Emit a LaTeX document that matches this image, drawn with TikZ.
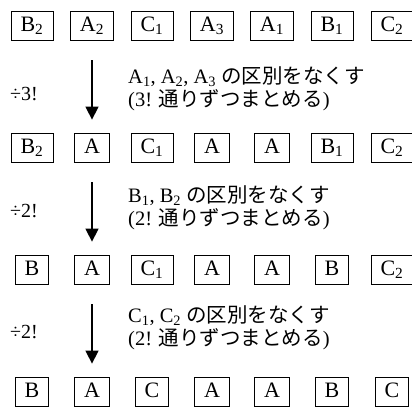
\documentclass[tikz,border=0pt]{standalone}
\usepackage{fontspec}
\setmainfont{Liberation Serif}
\newfontfamily\jpfont{Noto Sans CJK JP}
\usetikzlibrary{arrows.meta}
\newcommand\sbs[1]{\textsubscript{#1}}
\begin{document}
\begin{tikzpicture}[x=1pt,y=-1pt,
  cell/.style={draw,line width=0.8pt,minimum height=29pt,inner xsep=9.5pt,inner ysep=0pt,
    text height=15pt,text depth=4pt,font=\fontsize{22}{22}\selectfont},
  note/.style={anchor=west,inner sep=0pt,font=\fontsize{20.5}{20.5}\selectfont},
  divtxt/.style={anchor=west,inner sep=0pt,font=\fontsize{20}{20}\selectfont},
  down/.style={line width=1.5pt,-{Triangle[width=13pt,length=13pt]},shorten <=19.5pt,shorten >=13.5pt}]
\useasboundingbox (0,0) rectangle (412,407);
% row 1
\foreach \t [count=\i] in {B\sbs{2},A\sbs{2},C\sbs{1},A\sbs{3},A\sbs{1},B\sbs{1},C\sbs{2}}
  \node[cell] (r1c\i) at ({32+60*(\i-1)},26) {\t};
% row 2
\foreach \t [count=\i] in {B\sbs{2},A,C\sbs{1},A,A,B\sbs{1},C\sbs{2}}
  \node[cell] (r2c\i) at ({32+60*(\i-1)},148) {\t};
% row 3
\foreach \t [count=\i] in {B,A,C\sbs{1},A,A,B,C\sbs{2}}
  \node[cell] (r3c\i) at ({32+60*(\i-1)},270) {\t};
% row 4
\foreach \t [count=\i] in {B,A,C,A,A,B,C}
  \node[cell] (r4c\i) at ({32+60*(\i-1)},392) {\t};
% arrows
\draw[down] (r1c2.south) -- (r2c2.north);
\draw[down] (r2c2.south) -- (r3c2.north);
\draw[down] (r3c2.south) -- (r4c2.north);
% annotations
\node[divtxt] (d1) at (10,94) {÷3!};
\node[note] (n1a) at (128,77) {A\sbs{1}, A\sbs{2}, A\sbs{3} {\jpfont の区別をなくす}};
\node[note] (n1b) at (128,100.5) {(3! {\jpfont 通りずつまとめる})};
\node[divtxt] (d2) at (10,211) {÷2!};
\node[note] (n2a) at (128,196) {B\sbs{1}, B\sbs{2} {\jpfont の区別をなくす}};
\node[note] (n2b) at (128,219.5) {(2! {\jpfont 通りずつまとめる})};
\node[divtxt] (d3) at (10,332) {÷2!};
\node[note] (n3a) at (128,316) {C\sbs{1}, C\sbs{2} {\jpfont の区別をなくす}};
\node[note] (n3b) at (128,339.5) {(2! {\jpfont 通りずつまとめる})};
\end{tikzpicture}
\end{document}
